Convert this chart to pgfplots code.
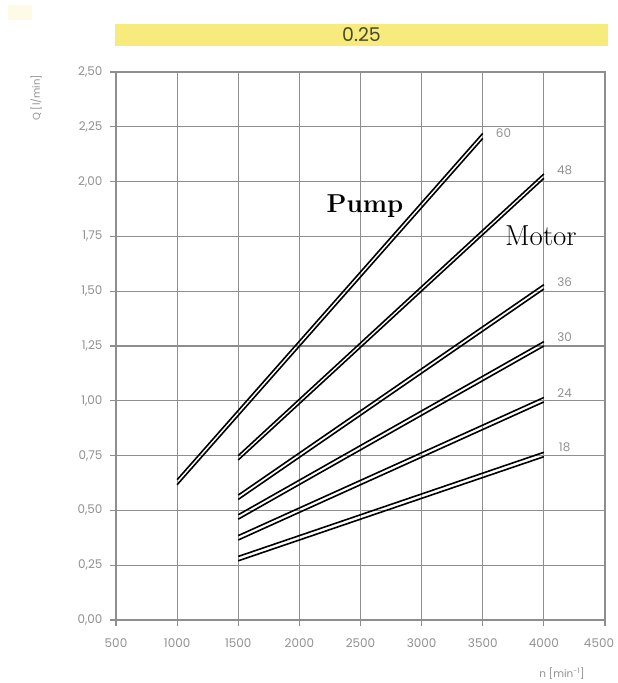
\documentclass[border=0pt]{standalone}
\usepackage{fontspec}
\newfontfamily\pop{Poppins}
\usepackage{pgfplots}
\pgfplotsset{compat=1.18}
\definecolor{gridgray}{HTML}{8E8E8E}
\definecolor{ticktext}{HTML}{909090}
\definecolor{banner}{HTML}{F7EB7E}
\definecolor{bannertext}{HTML}{4A4A2A}
\begin{document}
\begin{tikzpicture}[x=1bp,y=1bp]
\path[use as bounding box] (0,0) rectangle (618,683);
\fill[banner] (115,637) rectangle (608,659);
\node[font=\pop\fontsize{19}{19}\selectfont, text=bannertext] at (361.5,648) {0.25};
\fill[banner!20] (8,663) rectangle (32,678);
\node[rotate=90, font=\pop\fontsize{10}{10}\selectfont, text=ticktext] at (36,585) {Q [l/min]};
\node[font=\pop\fontsize{10.5}{10.5}\selectfont, text=ticktext] at (562,9) {n [min\textsuperscript{-1}]};
\begin{axis}[at={(116bp,63bp)}, anchor=south west, scale only axis,
  width=489bp, height=548bp,
  xmin=500, xmax=4500, ymin=0, ymax=2.5,
  xtick={500,1000,1500,2000,2500,3000,3500,4000},
  extra x ticks={4500},
  extra x tick style={xticklabel style={/tikz/xshift=-6bp}},
  ytick={0,0.25,0.5,0.75,1,1.25,1.5,1.75,2,2.25,2.5},
  xtick pos=left, ytick pos=left,
  grid=major, grid style={gridgray, line width=1.1pt},
  axis line style={gridgray, line width=1.5pt},
  tick style={gridgray, line width=1.2pt}, tick align=outside, major tick length=6bp,
  ticklabel style={font=\pop\fontsize{12}{12}\selectfont, text=ticktext},
  /pgf/number format/assume math mode=true,
  yticklabel style={/tikz/xshift=-4bp, /pgf/number format/fixed, /pgf/number format/fixed zerofill, /pgf/number format/precision=2, /pgf/number format/use comma},
  xticklabel style={/tikz/yshift=-9bp, /pgf/number format/1000 sep={}},
  clip=false,
]
% 60
\addplot[black, line width=1.6pt] coordinates {(1000,0.640) (3500,2.220)};
\addplot[black, line width=1.6pt] coordinates {(1000,0.617) (3500,2.197)};
% 48
\addplot[black, line width=1.6pt] coordinates {(1500,0.750) (4000,2.035)};
\addplot[black, line width=1.6pt] coordinates {(1500,0.730) (4000,2.015)};
% 36
\addplot[black, line width=1.6pt] coordinates {(1500,0.570) (4000,1.530)};
\addplot[black, line width=1.6pt] coordinates {(1500,0.550) (4000,1.510)};
% 30
\addplot[black, line width=1.6pt] coordinates {(1500,0.480) (4000,1.270)};
\addplot[black, line width=1.6pt] coordinates {(1500,0.460) (4000,1.250)};
% 24
\addplot[black, line width=1.6pt] coordinates {(1500,0.385) (4000,1.015)};
\addplot[black, line width=1.6pt] coordinates {(1500,0.365) (4000,0.995)};
% 18
\addplot[black, line width=1.6pt] coordinates {(1500,0.290) (4000,0.765)};
\addplot[black, line width=1.6pt] coordinates {(1500,0.270) (4000,0.745)};
\begin{scope}[every node/.style={font=\pop\fontsize{12}{12}\selectfont, text=ticktext}]
\node at (axis cs:3670,2.22) {60};
\node at (axis cs:4170,2.05) {48};
\node at (axis cs:4170,1.54) {36};
\node at (axis cs:4170,1.29) {30};
\node at (axis cs:4170,1.035) {24};
\node at (axis cs:4170,0.79) {18};
\end{scope}
\node[font=\bfseries\fontsize{26}{26}\selectfont] at (axis cs:2537,1.89) {Pump};
\node[font=\fontsize{29}{29}\selectfont] at (axis cs:3976,1.755) {Motor};
\end{axis}
\end{tikzpicture}
\end{document}
